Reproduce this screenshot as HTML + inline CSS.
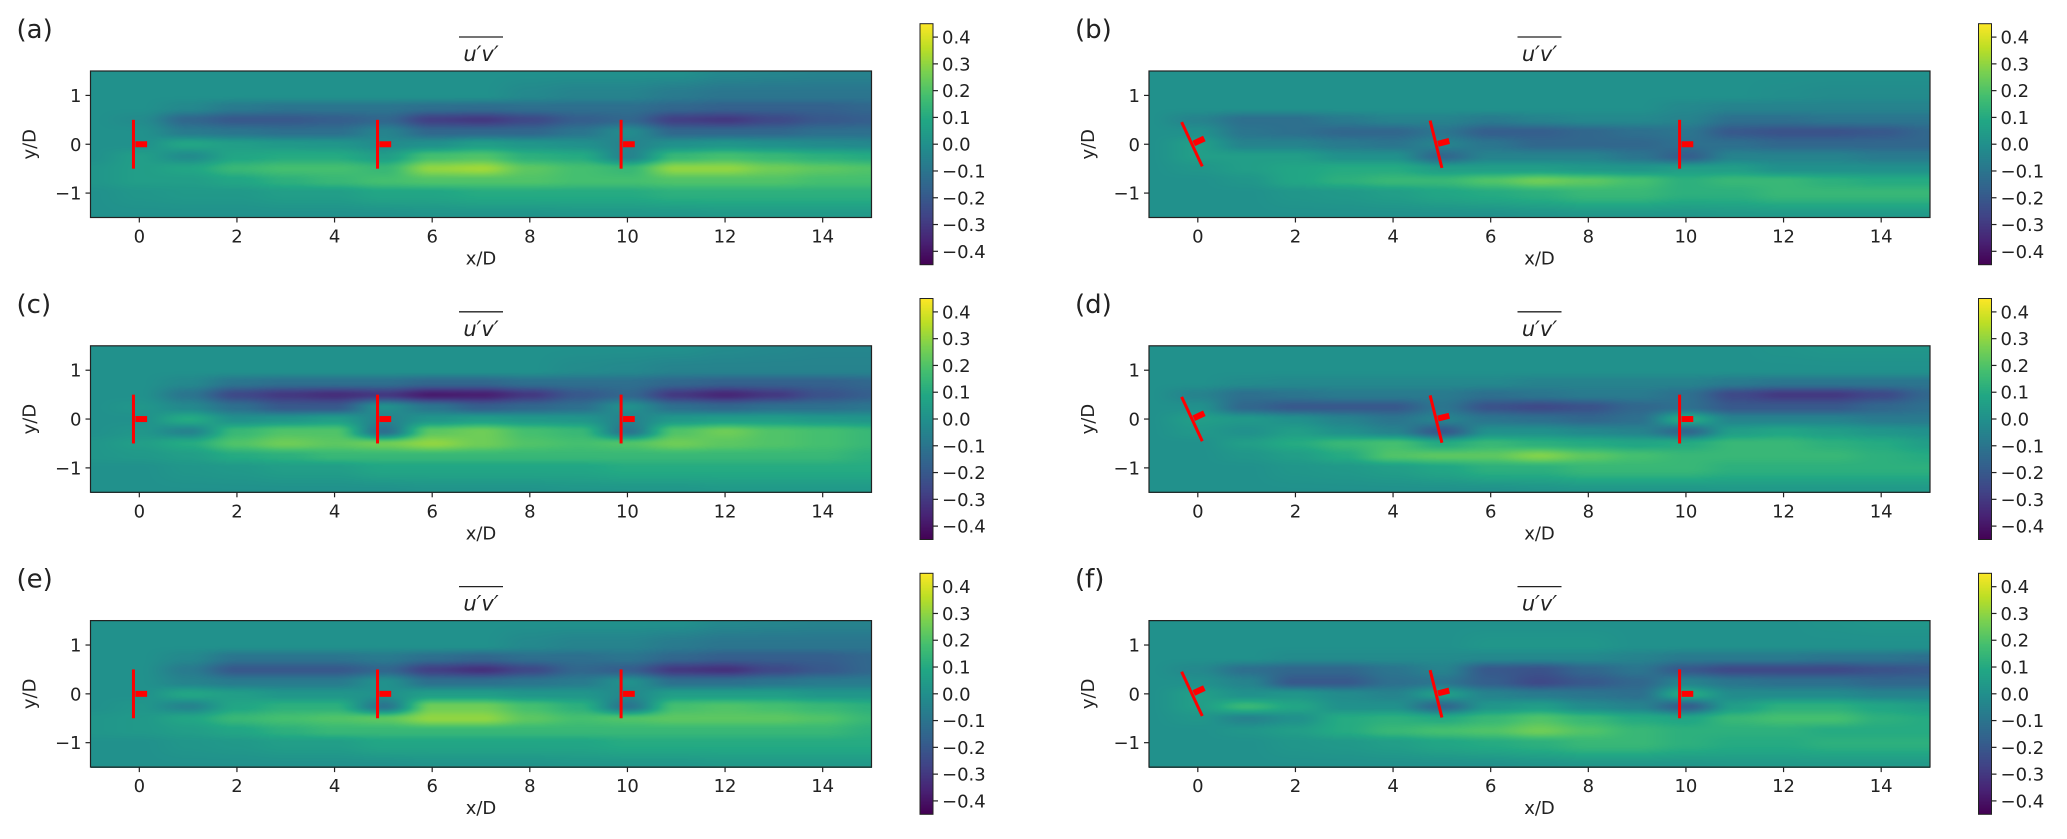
<!DOCTYPE html>
<html><head><meta charset="utf-8">
<style>
html,body{margin:0;padding:0;background:#fff;}
#wrap{position:relative;width:2067px;height:839px;overflow:hidden;}
canvas{position:absolute;}
svg{position:absolute;left:0;top:0;}
text{font-family:"DejaVu Sans","Liberation Sans",sans-serif;fill:#222;}
</style></head>
<body>
<div id="wrap"></div>
<script>
// ---- data ----
const xCats = [-1,0,1,2,3,4,5,6,7,8,9,10,11,12,13,14,15];
const yCats = [1.5,1.0,0.75,0.5,0.25,0,-0.25,-0.5,-0.75,-1.0,-1.5];
const xTicks = [0,2,4,6,8,10,12,14];
const yTicks = [1,0,-1];
const cbTicks = [0.4,0.3,0.2,0.1,0.0,-0.1,-0.2,-0.3,-0.4];
const cbTickLabels = ["0.4","0.3","0.2","0.1","0.0","\u22120.1","\u22120.2","\u22120.3","\u22120.4"];
const panelLabels = ["(a)","(b)","(c)","(d)","(e)","(f)"];
const turbineX = [-0.12, 4.88, 9.87];
const yawAligned = [0,0,0];
const yawYawed = [25,14,0];

const fieldA = [
[0,0,0,0,0,0,0,0,0,0,0,0,0,-0.03,-0.04,-0.05,-0.05],
[0,0,0,0,0,0,0,0,0,-0.03,-0.05,-0.05,-0.08,-0.1,-0.1,-0.1,-0.1],
[0,0,-0.03,-0.08,-0.1,-0.1,-0.1,-0.12,-0.13,-0.12,-0.12,-0.12,-0.15,-0.17,-0.17,-0.17,-0.15],
[0,-0.02,-0.15,-0.2,-0.2,-0.18,-0.15,-0.28,-0.3,-0.25,-0.18,-0.15,-0.28,-0.3,-0.25,-0.2,-0.18],
[0,0,-0.08,-0.1,-0.12,-0.12,-0.05,-0.15,-0.15,-0.15,-0.1,-0.02,-0.15,-0.15,-0.15,-0.12,-0.12],
[0,0,0.08,0.05,0.03,0.02,-0.02,0,0.05,0.02,0,-0.05,0,0.02,0,-0.02,-0.03],
[0,0.05,-0.02,0.08,0.1,0.1,0.05,0.18,0.2,0.12,0.1,-0.05,0.15,0.18,0.15,0.12,0.1],
[0.02,0.05,0.08,0.15,0.18,0.18,0.15,0.3,0.32,0.22,0.18,0.15,0.3,0.3,0.25,0.22,0.2],
[0.02,0.05,0.05,0.08,0.12,0.15,0.18,0.2,0.2,0.2,0.18,0.18,0.2,0.2,0.2,0.18,0.18],
[0,0.02,0.03,0.03,0.05,0.05,0.08,0.08,0.1,0.1,0.1,0.1,0.12,0.12,0.12,0.12,0.12],
[0,0,0,0,0,0,0,0.01,0.01,0.01,0.02,0.02,0.02,0.03,0.03,0.03,0.03]];

const fieldB = [
[0,0,0,0,0,0,0,0,0,0,0,0,0,0,0,0,0],
[0,0,0,0,0,0,0,0,0,0,0,0,0,-0.01,-0.02,-0.02,-0.02],
[0,0,0,0,0,0,0,0,0,0,0,-0.03,-0.05,-0.05,-0.05,-0.05,-0.05],
[0,-0.05,-0.12,-0.12,-0.08,-0.05,-0.05,-0.08,-0.05,-0.03,-0.03,-0.05,-0.12,-0.12,-0.1,-0.1,-0.1],
[0,0,-0.1,-0.12,-0.15,-0.15,-0.1,-0.18,-0.18,-0.15,-0.12,-0.1,-0.2,-0.22,-0.22,-0.2,-0.15],
[0,0.05,-0.05,-0.05,-0.08,-0.1,-0.05,-0.1,-0.15,-0.15,-0.15,-0.12,-0.12,-0.15,-0.15,-0.15,-0.15],
[0,0.05,0.05,0.05,0,0,-0.15,-0.05,-0.05,-0.05,-0.1,-0.18,-0.05,-0.05,-0.05,-0.08,-0.08],
[0,0.02,0.05,0.08,0.1,0.1,0.05,0.05,0.05,0.03,0.02,0.05,0.05,0,0,0,0],
[0,0,0.02,0.08,0.12,0.15,0.15,0.2,0.25,0.22,0.18,0.12,0.15,0.15,0.12,0.1,0.1],
[0,0,0,0.02,0.03,0.05,0.08,0.1,0.12,0.15,0.15,0.12,0.12,0.15,0.15,0.15,0.15],
[0,0,0,0,0,0,0,0,0.01,0.02,0.02,0.02,0.03,0.03,0.03,0.03,0.03]];

const fieldC = [
[0,0,0,0,0,0,0,0,0,0,0,0,0,-0.02,-0.03,-0.04,-0.04],
[0,0,0,0,0,0,0,0,0,0,-0.02,-0.03,-0.05,-0.05,-0.05,-0.05,-0.05],
[0,0,-0.03,-0.1,-0.12,-0.12,-0.12,-0.15,-0.15,-0.12,-0.12,-0.12,-0.15,-0.17,-0.17,-0.17,-0.15],
[0,0,-0.1,-0.25,-0.3,-0.33,-0.3,-0.38,-0.37,-0.3,-0.2,-0.15,-0.3,-0.35,-0.3,-0.22,-0.18],
[0,0.02,-0.03,-0.12,-0.2,-0.2,0,-0.1,-0.18,-0.15,-0.12,0,-0.12,-0.15,-0.12,-0.12,-0.1],
[0,0,0.1,0,0.02,0.05,-0.05,0.02,0.05,0.03,0.02,-0.05,0.03,0.05,0.05,0.03,0.02],
[0,0.02,-0.05,0.15,0.2,0.2,-0.12,0.22,0.25,0.18,0.15,-0.1,0.2,0.25,0.2,0.18,0.15],
[0.02,0.05,0.1,0.2,0.25,0.22,0.25,0.3,0.25,0.2,0.18,0.2,0.25,0.22,0.2,0.18,0.15],
[0.02,0.03,0.05,0.1,0.12,0.15,0.15,0.15,0.15,0.15,0.15,0.15,0.15,0.15,0.15,0.15,0.12],
[0,0,0.02,0.03,0.05,0.05,0.08,0.08,0.08,0.08,0.08,0.1,0.1,0.1,0.1,0.1,0.1],
[0,0,0,0,0,0,0,0.01,0.01,0.01,0.02,0.02,0.02,0.03,0.03,0.03,0.03]];

const fieldD = [
[0,0,0,0,0,0,0,0,0,0,0,0,0,0.01,0.02,0.02,0.02],
[0,0,0,0,0,0,0,0,0,0,0,0,0,0,0,0,0],
[0,0,-0.02,-0.03,-0.03,-0.03,-0.03,-0.03,-0.05,-0.05,-0.05,-0.05,-0.08,-0.1,-0.1,-0.1,-0.1],
[0,-0.05,-0.12,-0.1,-0.08,-0.08,-0.08,-0.12,-0.1,-0.08,-0.08,-0.12,-0.25,-0.3,-0.3,-0.25,-0.15],
[0,0,-0.15,-0.2,-0.2,-0.2,-0.1,-0.22,-0.25,-0.22,-0.15,-0.12,-0.2,-0.2,-0.2,-0.15,-0.12],
[0,0.05,0.03,0,-0.05,-0.1,-0.05,-0.1,-0.12,-0.15,-0.12,0.1,-0.05,-0.05,-0.05,-0.08,-0.08],
[0,0.03,0,0.05,0,-0.05,-0.2,0,0,-0.03,-0.05,-0.15,0.05,0.08,0.05,0.02,0],
[0,0,0.05,0.1,0.15,0.18,0.1,0.15,0.12,0.1,0.08,0.1,0.15,0.15,0.12,0.1,0.05],
[0,0,0.02,0.05,0.1,0.2,0.22,0.22,0.28,0.22,0.18,0.15,0.15,0.15,0.15,0.12,0.1],
[0,0,0,0.02,0.03,0.05,0.08,0.12,0.12,0.15,0.15,0.15,0.12,0.12,0.12,0.12,0.12],
[0,0,0,0,0,0,0,0,0.01,0.02,0.02,0.02,0.03,0.03,0.03,0.03,0.03]];

const fieldE = [
[0,0,0,0,0,0,0,0,0,0,0,0,0,-0.03,-0.04,-0.05,-0.05],
[0,0,0,0,0,0,0,0,0,-0.03,-0.05,-0.05,-0.08,-0.1,-0.1,-0.1,-0.1],
[0,0,-0.03,-0.1,-0.1,-0.1,-0.08,-0.12,-0.15,-0.12,-0.12,-0.1,-0.15,-0.18,-0.18,-0.18,-0.15],
[0,0,-0.08,-0.2,-0.2,-0.2,-0.15,-0.28,-0.32,-0.25,-0.15,-0.18,-0.3,-0.32,-0.25,-0.2,-0.15],
[0,0,-0.05,-0.08,-0.08,-0.08,0,-0.12,-0.12,-0.1,-0.08,0,-0.12,-0.12,-0.1,-0.08,-0.08],
[0,0,0.08,0.05,0.02,0.02,0,0.05,0.05,0.02,0.02,-0.03,0.05,0.05,0.05,0.02,0.02],
[0,0.02,-0.05,0.08,0.12,0.12,-0.1,0.25,0.25,0.18,0.12,-0.1,0.18,0.2,0.18,0.15,0.12],
[0.02,0.03,0.08,0.15,0.18,0.2,0.22,0.3,0.3,0.22,0.18,0.2,0.22,0.22,0.22,0.2,0.15],
[0.02,0.03,0.05,0.08,0.12,0.15,0.15,0.15,0.15,0.15,0.15,0.15,0.15,0.15,0.15,0.15,0.12],
[0,0,0.02,0.03,0.05,0.05,0.08,0.08,0.08,0.08,0.08,0.1,0.1,0.1,0.1,0.1,0.1],
[0,0,0,0,0,0,0,0.01,0.01,0.01,0.02,0.02,0.02,0.03,0.03,0.03,0.03]];

const fieldF = [
[0,0,0,0,0,0,0,0,0,0,0,0,0,0,0.01,0.02,0.02],
[0,0,0,0,0,0,0,0.02,0.02,0.02,0,0,0,0,0,0,0],
[0,0,0,-0.02,-0.02,-0.02,-0.02,-0.03,-0.03,-0.03,-0.05,-0.08,-0.08,-0.08,-0.1,-0.1,-0.12],
[0,-0.03,-0.12,-0.15,-0.15,-0.1,-0.05,-0.2,-0.22,-0.15,-0.1,-0.2,-0.25,-0.25,-0.25,-0.22,-0.2],
[0,0,-0.05,-0.2,-0.2,-0.12,-0.1,-0.18,-0.25,-0.2,-0.15,-0.05,-0.1,-0.12,-0.12,-0.15,-0.15],
[0,0.05,0,0.02,-0.02,-0.05,0.05,-0.05,-0.08,-0.1,-0.12,0.1,-0.02,-0.02,-0.02,-0.05,-0.05],
[0,0.05,0.15,0.08,0,0,-0.15,0.02,0.05,-0.02,-0.05,-0.18,0.05,0.12,0.12,0.08,0.05],
[0,0.02,-0.05,0,0.1,0.12,0.1,0.15,0.2,0.15,0.1,0.08,0.15,0.18,0.18,0.12,0.1],
[0,0,0.02,0.05,0.1,0.15,0.18,0.2,0.25,0.2,0.15,0.12,0.12,0.12,0.1,0.1,0.1],
[0,0,0,0.02,0.03,0.05,0.08,0.1,0.12,0.15,0.15,0.12,0.1,0.1,0.12,0.12,0.12],
[0,0,0,0,0,0,0,0,0.01,0.02,0.02,0.02,0.03,0.03,0.03,0.03,0.03]];

const fields = [fieldA, fieldB, fieldC, fieldD, fieldE, fieldF];
const yaws = [yawAligned, yawYawed, yawAligned, yawYawed, yawAligned, yawYawed];

// ---- layout ----
const colLeft = [90.5, 1149];
const rowTop = [71, 345.8, 620.6];
const plotW = 781, plotH = 146.5;
const vmin = -0.45, vmax = 0.45;
const viridis = ["#440154","#482475","#414487","#355f8d","#2a788e","#21918c","#22a884","#44bf70","#7ad151","#bddf26","#fde725"];
const vir = viridis.map(h=>[parseInt(h.slice(1,3),16),parseInt(h.slice(3,5),16),parseInt(h.slice(5,7),16)]);
function cmap(v){
  let t=(v-vmin)/(vmax-vmin); t=Math.max(0,Math.min(1,t));
  const f=t*10, i=Math.min(9,Math.floor(f)), r=f-i;
  const a=vir[i], b=vir[i+1];
  return [a[0]+(b[0]-a[0])*r, a[1]+(b[1]-a[1])*r, a[2]+(b[2]-a[2])*r];
}
function sample(F, x, y){
  let i=0; while(i<xCats.length-2 && x>xCats[i+1]) i++;
  let j=0; while(j<yCats.length-2 && y<yCats[j+1]) j++;
  let fx=(x-xCats[i])/(xCats[i+1]-xCats[i]); fx=Math.max(0,Math.min(1,fx));
  let fy=(y-yCats[j])/(yCats[j+1]-yCats[j]); fy=Math.max(0,Math.min(1,fy));
  fx=fx*fx*(3-2*fx); fy=fy*fy*(3-2*fy);
  const a=F[j][i], b=F[j][i+1], c=F[j+1][i], d=F[j+1][i+1];
  return a*(1-fx)*(1-fy)+b*fx*(1-fy)+c*(1-fx)*fy+d*fx*fy;
}

const wrap=document.getElementById('wrap');
const NS="http://www.w3.org/2000/svg";
const svg=document.createElementNS(NS,'svg');
svg.setAttribute('width','2067'); svg.setAttribute('height','839');


function el(tag, attrs, parent){
  const e=document.createElementNS(NS,tag);
  for(const k in attrs) e.setAttribute(k, attrs[k]);
  (parent||svg).appendChild(e); return e;
}

fields.forEach((F, p)=>{
  const col=p%2, row=Math.floor(p/2);
  const L=colLeft[col], T=rowTop[row];
  const sx=x=>L+(x-(-1))/16*plotW;
  const sy=y=>T+(1.5-y)/3*plotH;

  // heatmap canvas
  const cv=document.createElement('canvas');
  cv.width=Math.round(plotW); cv.height=Math.round(plotH);
  cv.style.left=L+'px'; cv.style.top=T+'px';
  
  
  const ctx=cv.getContext('2d');
  const img=ctx.createImageData(cv.width,cv.height);
  for(let py=0;py<cv.height;py++){
    const y=1.5-(py+0.5)/plotH*3;
    for(let px=0;px<cv.width;px++){
      const x=-1+(px+0.5)/plotW*16;
      const c=cmap(sample(F,x,y));
      const k=(py*cv.width+px)*4;
      img.data[k]=c[0]; img.data[k+1]=c[1]; img.data[k+2]=c[2]; img.data[k+3]=255;
    }
  }
  ctx.putImageData(img,0,0);
  wrap.appendChild(cv);

  const g=el('g',{});
  
  

  // frame
  const fr=el('rect',{x:L,y:T,width:plotW,height:plotH,fill:'none',stroke:'#222','stroke-width':1.2},g);
  
  

  // turbines
  turbineX.forEach((tx,k)=>{
    const th=yaws[p][k]*Math.PI/180;
    const cx=tx, cy=0;
    const rot=el('line',{x1:sx(cx-0.5*Math.sin(th)),y1:sy(cy+0.5*Math.cos(th)),x2:sx(cx+0.5*Math.sin(th)),y2:sy(cy-0.5*Math.cos(th)),stroke:'#ff0000','stroke-width':3},g);
    
    
    const nac=el('line',{x1:sx(cx+0.04*Math.cos(th)),y1:sy(cy+0.04*Math.sin(th)),x2:sx(cx+0.28*Math.cos(th)),y2:sy(cy+0.28*Math.sin(th)),stroke:'#ff0000','stroke-width':6},g);
    
    
  });

  // x ticks
  xTicks.forEach(v=>{
    el('line',{x1:sx(v),x2:sx(v),y1:T+plotH,y2:T+plotH+5,stroke:'#222','stroke-width':1.2},g);
    const t=el('text',{x:sx(v),y:T+plotH+25,'font-size':18,'text-anchor':'middle'},g);
    t.textContent=v;
    
    
  });
  yTicks.forEach(v=>{
    el('line',{x1:L-5,x2:L,y1:sy(v),y2:sy(v),stroke:'#222','stroke-width':1.2},g);
    const t=el('text',{x:L-9,y:sy(v)+6.5,'font-size':18,'text-anchor':'end'},g);
    t.textContent=v<0?'\u2212'+Math.abs(v):v;
    
    
  });
  const xl=el('text',{x:L+plotW/2,y:T+plotH+47,'font-size':18,'text-anchor':'middle'},g);
  xl.textContent='x/D';
  
  
  const ylx=L-55, yly=T+plotH/2;
  const yl=el('text',{x:ylx,y:yly,'font-size':18,'text-anchor':'middle',transform:`rotate(-90 ${ylx} ${yly})`},g);
  yl.textContent='y/D';
  
  

  // title
  const tt=el('text',{x:L+plotW/2,y:T-10,'font-size':21,'text-anchor':'middle','font-style':'italic'},g);
  tt.textContent='u\u2032v\u2032';
  
  
  el('line',{x1:L+plotW/2-22,x2:L+plotW/2+22,y1:T-34,y2:T-34,stroke:'#222','stroke-width':1.3},g);

  // panel label
  const pl=el('text',{x:L-74,y:T-33,'font-size':26},g);
  pl.textContent=panelLabels[p];
  
  

  // colorbar
  const cbL=L+829.5, cbT=T-47.3, cbW=13, cbH=241;
  const cc=document.createElement('canvas');
  cc.width=cbW; cc.height=cbH;
  cc.style.left=cbL+'px'; cc.style.top=cbT+'px';
  
  
  const c2=cc.getContext('2d');
  for(let py=0;py<cbH;py++){
    const v=vmax-(py+0.5)/cbH*(vmax-vmin);
    const c=cmap(v);
    c2.fillStyle=`rgb(${c[0]|0},${c[1]|0},${c[2]|0})`;
    c2.fillRect(0,py,cbW,1);
  }
  wrap.appendChild(cc);
  el('rect',{x:cbL,y:cbT,width:cbW,height:cbH,fill:'none',stroke:'#222','stroke-width':1},g);
  const cy=v=>cbT+(vmax-v)/(vmax-vmin)*cbH;
  cbTicks.forEach((v,i)=>{
    el('line',{x1:cbL+cbW,x2:cbL+cbW+5,y1:cy(v),y2:cy(v),stroke:'#222','stroke-width':1.2},g);
    const t=el('text',{x:cbL+cbW+9,y:cy(v)+6.5,'font-size':18},g);
    t.textContent=cbTickLabels[i];
    
    
  });
});
wrap.appendChild(svg);
</script>
</body></html>
